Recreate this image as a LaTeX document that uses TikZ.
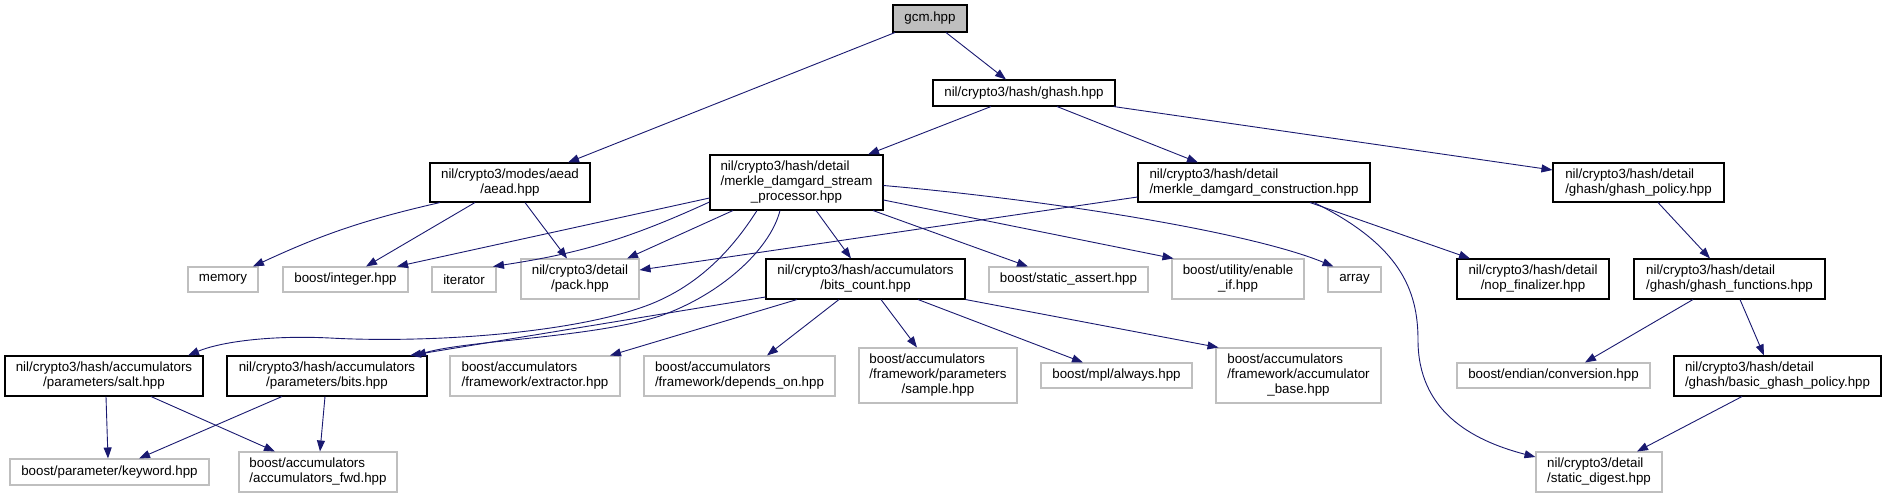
\documentclass[tikz,border=0pt]{standalone}
\usepackage{fontspec}
\setmainfont{Liberation Sans}
\usetikzlibrary{arrows.meta,calc}
\definecolor{edgeblue}{HTML}{191970}
\definecolor{greyborder}{HTML}{BFBFBF}
\newcommand\lefttab[1]{\begin{tabular}{@{}l@{}}#1\end{tabular}}
\newcommand\ctrline[1]{\multicolumn{1}{@{}c@{}}{#1}}
\tikzset{
  lbl/.style={font=\fontsize{13.33}{15}\selectfont},
  nbox/.style={lbl, draw=black, line width=1.05pt, rectangle, inner sep=0pt, align=center},
  rootbox/.style={nbox, fill=greyborder},
  extbox/.style={nbox, draw=greyborder},
  edge/.style={draw=edgeblue, line width=0.9pt, -{Triangle[length=11pt,width=8pt]}},
}
\begin{document}
\begin{tikzpicture}[x=1pt,y=-1pt]
\useasboundingbox (0,0) rectangle (1885,499);
% row 0/1
\node[rootbox, minimum width=74pt, minimum height=27pt] (gcm) at (930,18.5) {gcm.hpp};
\node[nbox, minimum width=182pt, minimum height=26pt] (ghash) at (1024,93) {nil/crypto3/hash/ghash.hpp};
% row 2
\node[nbox, minimum width=160pt, minimum height=39pt] (aead) at (510,182.5) {nil/crypto3/modes/aead\\/aead.hpp};
\node[nbox, minimum width=173pt, minimum height=55pt] (msp) at (796.5,182.5) {\lefttab{nil/crypto3/hash/detail\\/merkle\_damgard\_stream\\\ctrline{\_processor.hpp}}};
\node[nbox, minimum width=232pt, minimum height=39pt] (mdc) at (1254,182.5) {\lefttab{nil/crypto3/hash/detail\\/merkle\_damgard\_construction.hpp}};
\node[nbox, minimum width=171pt, minimum height=39pt] (ghp) at (1638.5,182.5) {\lefttab{nil/crypto3/hash/detail\\/ghash/ghash\_policy.hpp}};
% row 3
\node[extbox, minimum width=70pt, minimum height=25pt] (memory) at (223,279.5) {memory};
\node[extbox, minimum width=125pt, minimum height=25pt] (integer) at (345.5,279.5) {boost/integer.hpp};
\node[extbox, minimum width=64pt, minimum height=25pt] (iterator) at (464,279.5) {iterator};
\node[extbox, minimum width=118pt, minimum height=40pt] (pack) at (580,279) {nil/crypto3/detail\\/pack.hpp};
\node[nbox, minimum width=199pt, minimum height=40pt] (bitscount) at (865.5,279) {nil/crypto3/hash/accumulators\\/bits\_count.hpp};
\node[extbox, minimum width=159pt, minimum height=25pt] (sassert) at (1068.5,279.5) {boost/static\_assert.hpp};
\node[extbox, minimum width=132pt, minimum height=40pt] (enableif) at (1238,279) {boost/utility/enable\\\_if.hpp};
\node[extbox, minimum width=53pt, minimum height=25pt] (array) at (1354.5,279.5) {array};
\node[nbox, minimum width=152pt, minimum height=40pt] (nop) at (1533,279) {nil/crypto3/hash/detail\\/nop\_finalizer.hpp};
\node[nbox, minimum width=191pt, minimum height=40pt] (ghf) at (1729.5,279) {\lefttab{nil/crypto3/hash/detail\\/ghash/ghash\_functions.hpp}};
% row 4
\node[nbox, minimum width=198pt, minimum height=40pt] (salt) at (104,376) {nil/crypto3/hash/accumulators\\/parameters/salt.hpp};
\node[nbox, minimum width=200pt, minimum height=40pt] (bits) at (327,376) {nil/crypto3/hash/accumulators\\/parameters/bits.hpp};
\node[extbox, minimum width=170pt, minimum height=40pt] (extractor) at (535,376) {\lefttab{boost/accumulators\\/framework/extractor.hpp}};
\node[extbox, minimum width=191pt, minimum height=40pt] (depends) at (739.5,376) {\lefttab{boost/accumulators\\/framework/depends\_on.hpp}};
\node[extbox, minimum width=158pt, minimum height=55pt] (sample) at (938,375.5) {\lefttab{boost/accumulators\\/framework/parameters\\\ctrline{/sample.hpp}}};
\node[extbox, minimum width=151pt, minimum height=25pt] (always) at (1116.5,375.5) {boost/mpl/always.hpp};
\node[extbox, minimum width=165pt, minimum height=55pt] (accbase) at (1298.5,375.5) {\lefttab{boost/accumulators\\/framework/accumulator\\\ctrline{\_base.hpp}}};
\node[extbox, minimum width=193pt, minimum height=25pt] (endian) at (1553.5,375.5) {boost/endian/conversion.hpp};
\node[nbox, minimum width=207pt, minimum height=40pt] (basic) at (1777.5,376) {\lefttab{nil/crypto3/hash/detail\\/ghash/basic\_ghash\_policy.hpp}};
% row 5
\node[extbox, minimum width=199pt, minimum height=26pt] (keyword) at (109.5,472) {boost/parameter/keyword.hpp};
\node[extbox, minimum width=158pt, minimum height=40pt] (accfwd) at (318,472) {\lefttab{boost/accumulators\\/accumulators\_fwd.hpp}};
\node[extbox, minimum width=126pt, minimum height=40pt] (sdigest) at (1599,472) {\lefttab{nil/crypto3/detail\\/static\_digest.hpp}};

% edges
\draw[edge] ([xshift=-35pt]gcm.south) -- ([xshift=58pt]aead.north);
\draw[edge] ([xshift=16pt]gcm.south) -- ([xshift=-18pt]ghash.north);
\draw[edge] ([xshift=-33pt]ghash.south) -- ([xshift=71.5pt]msp.north);
\draw[edge] ([xshift=33pt]ghash.south) -- ([xshift=-56pt]mdc.north);
\draw[edge] ([xshift=-2pt]ghash.south east) -- ([yshift=12.5pt]ghp.west);
\draw[edge] ([xshift=-70pt]aead.south) to[bend right=6] ([xshift=30pt]memory.north);
\draw[edge] ([xshift=-35pt]aead.south) -- ([xshift=20.5pt]integer.north);
\draw[edge] ([xshift=15pt]aead.south) -- ([xshift=-13pt]pack.north);
\draw[edge] ([yshift=-15.5pt]msp.west) -- ([xshift=51.5pt]integer.north);
\draw[edge] ([yshift=-19.5pt]msp.west) to[bend left=8] ([xshift=29pt]iterator.north);
\draw[edge] ([xshift=-63.5pt]msp.south) -- ([xshift=47pt]pack.north);
\draw[edge] ([xshift=-39.5pt]msp.south) .. controls (735,245) and (700,288) .. (640,308)
   .. controls (560,335) and (420,343) .. (330,338)
   .. controls (270,335) and (220,342) .. ([xshift=84pt]salt.north);
\draw[edge] ([xshift=-16.5pt]msp.south) .. controls (770,250) and (720,295) .. (660,316)
   .. controls (590,338) and (470,340) .. ([xshift=88pt]bits.north);
\draw[edge] ([xshift=19.5pt]msp.south) -- ([xshift=-14.5pt]bitscount.north);
\draw[edge] ([xshift=76.5pt]msp.south) -- ([xshift=-40.5pt]sassert.north);
\draw[edge] ([yshift=-17.5pt]msp.east) -- ([xshift=2pt]enableif.north west);
\draw[edge] ([yshift=-3pt]msp.east) .. controls (1050,200) and (1250,232) .. ([xshift=6pt]array.north west);
\draw[edge] ([yshift=-14.5pt]mdc.west) -- ([yshift=9pt]pack.east);
\draw[edge] ([xshift=56pt]mdc.south) -- ([xshift=-63pt]nop.north);
\draw[edge] ([xshift=60pt]mdc.south) .. controls (1400,245) and (1418,290) .. (1418,340)
   .. controls (1418,410) and (1470,440) .. ([yshift=15pt]sdigest.west);
\draw[edge] ([xshift=19.5pt]ghp.south) -- ([xshift=-19.5pt]ghf.north);
\draw[edge] ([xshift=-36.5pt]ghf.south) -- ([xshift=31.5pt]endian.north);
\draw[edge] ([xshift=10.5pt]ghf.south) -- ([xshift=-13.5pt]basic.north);
\draw[edge] ([xshift=-35.5pt]basic.south) -- ([xshift=38pt]sdigest.north);
\draw[edge] ([yshift=-18pt]bitscount.west) -- ([xshift=83pt]bits.north);
\draw[edge] ([xshift=-68.5pt]bitscount.south) -- ([xshift=75pt]extractor.north);
\draw[edge] ([xshift=-26.5pt]bitscount.south) -- ([xshift=27.5pt]depends.north);
\draw[edge] ([xshift=15.5pt]bitscount.south) -- ([xshift=-21pt]sample.north);
\draw[edge] ([xshift=52.5pt]bitscount.south) -- ([xshift=-33.5pt]always.north);
\draw[edge] (bitscount.south east) -- ([xshift=-80pt]accbase.north);
\draw[edge] ([xshift=2pt]salt.south) -- ([xshift=-1.5pt]keyword.north);
\draw[edge] ([xshift=47pt]salt.south) -- ([xshift=-43pt]accfwd.north);
\draw[edge] ([xshift=-45pt]bits.south) -- ([xshift=29.5pt]keyword.north);
\draw[edge] ([xshift=-2pt]bits.south) -- ([xshift=2pt]accfwd.north);
\end{tikzpicture}
\end{document}
